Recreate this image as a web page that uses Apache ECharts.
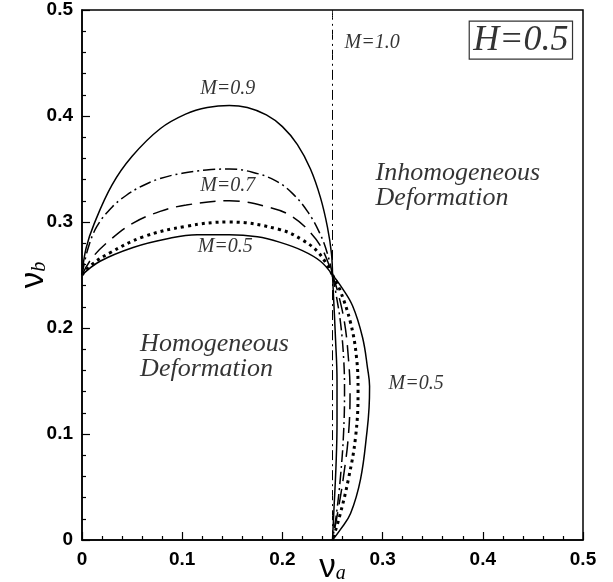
<!DOCTYPE html>
<html>
<head>
<meta charset="utf-8">
<script src="https://cdn.jsdelivr.net/npm/echarts@6/dist/echarts.min.js"></script>
<style>html,body{margin:0;padding:0;background:#fff}#c{width:613px;height:582px}</style>
</head>
<body>
<div id="c"></div>
<script>
// Tick labels
var xTicks = [0, 0.1, 0.2, 0.3, 0.4, 0.5];
var yTicks = [0, 0.1, 0.2, 0.3, 0.4, 0.5];

// Upper arcs (nu_a, nu_b), from (0,0.25) to (0.25,0.25)
var upM09 = [[0,0.25],[0.004,0.275],[0.012,0.298],[0.03,0.335],[0.05,0.362],[0.078,0.388],[0.104,0.402],[0.125,0.408],[0.147,0.41],[0.165,0.408],[0.184,0.401],[0.2,0.39],[0.215,0.373],[0.228,0.35],[0.238,0.323],[0.245,0.295],[0.249,0.27],[0.25,0.25]];
var upM08 = [[0,0.25],[0.006,0.275],[0.015,0.296],[0.03,0.314],[0.044,0.325],[0.06,0.334],[0.078,0.341],[0.1,0.346],[0.124,0.349],[0.147,0.35],[0.17,0.347],[0.193,0.339],[0.21,0.327],[0.225,0.31],[0.237,0.29],[0.245,0.27],[0.25,0.25]];
var upM07 = [[0,0.25],[0.01,0.266],[0.028,0.283],[0.051,0.299],[0.078,0.31],[0.104,0.316],[0.147,0.32],[0.19,0.313],[0.21,0.305],[0.228,0.29],[0.24,0.274],[0.25,0.25]];
var upM06 = [[0,0.25],[0.01,0.26],[0.028,0.271],[0.061,0.286],[0.104,0.296],[0.147,0.3],[0.197,0.293],[0.22,0.283],[0.237,0.27],[0.25,0.25]];
var upM05 = [[0,0.25],[0.018,0.263],[0.051,0.276],[0.084,0.284],[0.115,0.288],[0.147,0.288],[0.175,0.286],[0.197,0.281],[0.22,0.273],[0.238,0.263],[0.25,0.25]];

// Lower lobes (nu_a, nu_b), from (0.25,0.25) down to (0.25,0)
var loM05 = [[0.25,0.25],[0.258,0.24],[0.27,0.221],[0.28,0.191],[0.285,0.162],[0.287,0.145],[0.2865,0.125],[0.2845,0.103],[0.278,0.0575],[0.268,0.025],[0.258,0.01],[0.25,0]];
var loM06 = [[0.25,0.25],[0.257,0.237],[0.268,0.205],[0.274,0.172],[0.2755,0.139],[0.273,0.097],[0.266,0.058],[0.257,0.022],[0.25,0]];
var loM07 = [[0.25,0.25],[0.255,0.235],[0.262,0.205],[0.266,0.17],[0.2675,0.14],[0.266,0.1],[0.261,0.06],[0.255,0.025],[0.25,0]];
var loM08 = [[0.25,0.25],[0.253,0.235],[0.258,0.205],[0.2612,0.17],[0.262,0.14],[0.261,0.1],[0.258,0.06],[0.254,0.025],[0.25,0]];
var loM09 = [[0.25,0.25],[0.251,0.23],[0.253,0.19],[0.2545,0.15],[0.2545,0.11],[0.2535,0.07],[0.2515,0.03],[0.25,0]];

// M = 1.0 boundary
var lineM10 = [[0.25,0],[0.25,0.5]];

var chart = echarts.init(document.getElementById('c'), null, {renderer:'canvas'});

var SOLID = 'solid', DASHDOT = [12,4,2,4], DASH = [16,8], DOT = [3,4];
function curve(name, data, type, width) {
  return {
    name: name, type: 'line', data: data, symbol: 'none', smooth: 0.4,
    clip: true, silent: true,
    lineStyle: {color: '#000', width: width || 1.5, type: type}
  };
}
var serif = '"Liberation Serif", "Times New Roman", serif';
var sans = '"Liberation Sans", Arial, sans-serif';
function txt(x, y, text, size, extra) {
  var lab = Object.assign({show: true, formatter: text, fontFamily: serif, fontStyle: 'italic',
    fontSize: size, color: '#000', position: 'inside'}, extra || {});
  return {value: [x, y], label: lab};
}
function tickFmt(v){ return v === 0 ? '0' : String(+v.toFixed(1)); }
var nameRich = {
  nu: {fontFamily: sans, fontSize: 33, lineHeight: 33, color: '#000', verticalAlign: 'top'},
  sub: {fontFamily: serif, fontStyle: 'italic', fontSize: 20, lineHeight: 20, color: '#000', verticalAlign: 'bottom', padding: [20,0,0,0]}
};
function axisCommon() {
  return {
    type: 'value', interval: 0.1, nameLocation: 'middle', nameMoveOverlap: false,
    axisLine: {show: true, lineStyle: {color: '#000', width: 1.5}},
    axisTick: {show: true, inside: true, length: 8, lineStyle: {color: '#000', width: 1.2}},
    minorTick: {show: true, splitNumber: 5, length: 4, lineStyle: {color: '#000', width: 1.2}},
    splitLine: {show: false},
    nameTextStyle: {rich: nameRich}
  };
}

var xAx = Object.assign(axisCommon(), {
  min: xTicks[0], max: xTicks[xTicks.length-1],
  name: '{nu|ν}{sub|a}', nameGap: 11,
  axisLabel: {color: '#000', fontFamily: sans, fontWeight: 'bold', fontSize: 19, margin: 10, formatter: tickFmt}
});
var yAx = Object.assign(axisCommon(), {
  min: yTicks[0], max: yTicks[yTicks.length-1],
  name: '{nu|ν}{sub|b}', nameGap: 32,
  axisLabel: {color: '#000', fontFamily: sans, fontWeight: 'bold', fontSize: 19, margin: 9, formatter: tickFmt}
});

var option = {
  animation: false,
  backgroundColor: '#fff',
  grid: {left: 82, right: 30, top: 10, bottom: 42, outerBoundsMode: 'none', containLabel: false,
    show: true, borderColor: '#000', borderWidth: 1.5, backgroundColor: 'transparent'},
  xAxis: xAx,
  yAxis: yAx,
  series: [
    curve('M=1.0', lineM10, [10,4,2,4], 1),
    curve('up M=0.9', upM09, SOLID),
    curve('up M=0.8', upM08, DASHDOT),
    curve('up M=0.7', upM07, DASH),
    curve('up M=0.6', upM06, DOT, 3),
    curve('up M=0.5', upM05, SOLID),
    curve('lo M=0.5', loM05, SOLID),
    curve('lo M=0.6', loM06, DOT, 3),
    curve('lo M=0.7', loM07, DASH),
    curve('lo M=0.8', loM08, DASHDOT),
    curve('lo M=0.9', loM09, SOLID),
    {
      type: 'scatter', symbolSize: 0, silent: true, z: 10,
      data: [
        txt(0.1455, 0.426, 'M=0.9', 20),
        txt(0.1455, 0.334, 'M=0.7', 20),
        txt(0.143, 0.277, 'M=0.5', 20),
        txt(0.306, 0.147, 'M=0.5', 20, {position: 'right', distance: 0}),
        txt(0.262, 0.469, 'M=1.0', 20, {position: 'right', distance: 0}),
        txt(0.438, 0.4715, 'H=0.5', 36, {borderColor: '#000', borderWidth: 1.2, padding: [2, 4, 0, 4], lineHeight: 36}),
        txt(0.293, 0.334, 'Inhomogeneous\nDeformation', 26, {position: 'right', distance: 0, lineHeight: 25}),
        txt(0.058, 0.1725, 'Homogeneous\nDeformation', 26, {position: 'right', distance: 0, lineHeight: 25})
      ]
    }
  ]
};
chart.setOption(option);
</script>
</body>
</html>
